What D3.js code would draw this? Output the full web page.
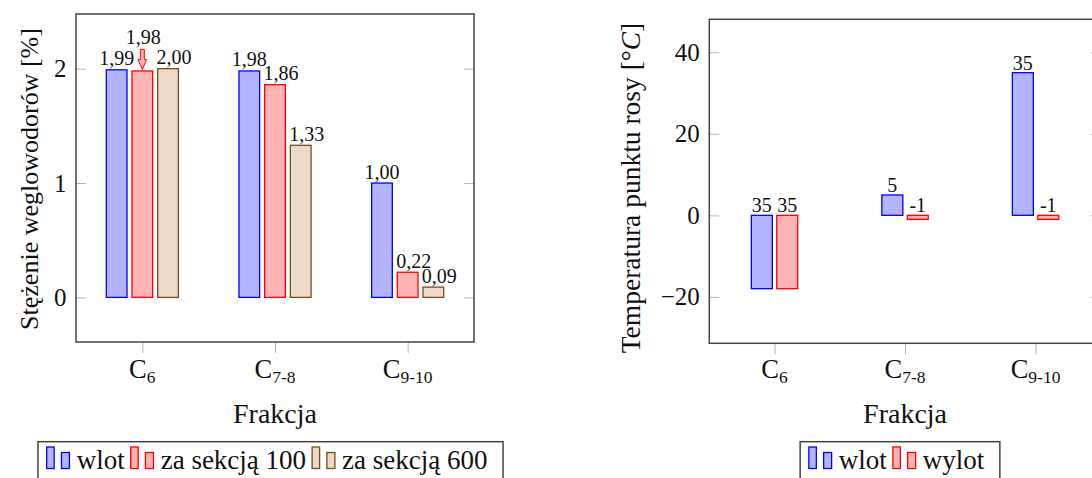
<!DOCTYPE html>
<html>
<head>
<meta charset="utf-8">
<script src="https://cdn.jsdelivr.net/npm/d3@7"></script>
<style>
  body { margin: 0; background: #fff; }
  svg { display: block; }
  svg text { font-family: "Liberation Serif", "DejaVu Serif", serif !important; fill: #111; }
</style>
</head>
<body>
<svg id="chart" width="1092" height="478"></svg>
<script>
// Data
const fractions = ['C6', 'C7-8', 'C9-10']
const fractionSubs = ['6', '7-8', '9-10']

const concSeries = ['wlot', 'za sekcją 100', 'za sekcją 600']
const concInlet = [1.99, 1.98, 1.00]
const concAfter100 = [1.98, 1.86, 0.22]
const concAfter600 = [2.00, 1.33, 0.09]
const concTicks = [0, 1, 2]

const dewSeries = ['wlot', 'wylot']
const dewInlet = [-18, 5, 35]
const dewOutlet = [-18, -1, -1]
const dewInletLabels = ['35', '5', '35']
const dewOutletLabels = ['35', '-1', '-1']
const dewTicks = [-20, 0, 20, 40]

// pgfplots bar cycle: blue, red, brown!60!black
const STYLES = [
  { fill: '#b3b3ff', stroke: '#0000ff' },
  { fill: '#ffb3b3', stroke: '#ff0000' },
  { fill: '#ecd9c6', stroke: '#734d26' },
]

const FONT = '"Liberation Serif", "DejaVu Serif", serif'
const svg = d3.select('#chart').attr('font-family', FONT)
const comma = v => d3.format('.2f')(v).replace('.', ',')
const minus = v => String(v).replace('-', '\u2212')

function drawPanel(p) {
  const g = svg.append('g')

  const x = d3.scalePoint().domain(fractions).range([p.left, p.right]).padding(0.5)
  const y = d3.scaleLinear().domain(p.yDomain).range([p.bottom, p.top])
  const n = p.series.length
  const gap = 1 - p.barWidth / p.step
  const inner = d3.scaleBand()
    .domain(d3.range(n))
    .range([-n * p.step / 2, n * p.step / 2])
    .paddingInner(gap)
    .paddingOuter(gap / 2)
  const bw = inner.bandwidth()

  // y ticks, inside on both sides
  const yLeft = g.append('g')
    .attr('transform', `translate(${p.left},0)`)
    .call(d3.axisLeft(y).tickValues(p.ticks).tickSizeInner(-10).tickSizeOuter(0).tickPadding(9.5).tickFormat(minus))
  const yRight = g.append('g')
    .attr('transform', `translate(${p.right},0)`)
    .call(d3.axisRight(y).tickValues(p.ticks).tickSizeInner(-10).tickSizeOuter(0).tickFormat(''))
  ;[yLeft, yRight].forEach(a => {
    a.attr('font-family', FONT).attr('font-size', 25)
    a.select('.domain').remove()
    a.selectAll('line').attr('stroke', '#b5b5b5')
    a.selectAll('text').attr('fill', '#111')
  })

  // x ticks, outside below
  const xAxis = g.append('g')
    .attr('transform', `translate(0,${p.bottom})`)
    .call(d3.axisBottom(x).tickSizeInner(11).tickSizeOuter(0).tickFormat(''))
  xAxis.select('.domain').remove()
  xAxis.selectAll('line').attr('stroke', '#b5b5b5')

  fractions.forEach((f, j) => {
    const t = g.append('text')
      .attr('x', x(f))
      .attr('y', 377.5)
      .attr('text-anchor', 'middle')
      .attr('font-size', 26.5)
    t.append('tspan').text('C')
    t.append('tspan').attr('font-size', 17.5).attr('dy', 5.5).text(fractionSubs[j])
  })

  // bars
  p.values.forEach((vals, i) => {
    g.selectAll(null)
      .data(vals)
      .join('rect')
      .attr('x', (v, j) => x(fractions[j]) + inner(i))
      .attr('y', v => y(Math.max(v, 0)))
      .attr('width', bw)
      .attr('height', v => Math.abs(y(v) - y(0)))
      .attr('fill', STYLES[i].fill)
      .attr('stroke', STYLES[i].stroke)
      .attr('stroke-width', 1.3)
  })

  // value labels
  p.labels.forEach((labs, i) => {
    labs.forEach((lab, j) => {
      const v = p.values[i][j]
      const cx = x(fractions[j]) + inner(i) + bw / 2
      const top = y(Math.max(v, 0))
      const raised = p.raised && p.raised.series === i && p.raised.cat === fractions[j]
      g.append('text')
        .attr('x', raised ? cx + 1 : cx + p.labelDx(i))
        .attr('y', raised ? top - p.raised.lift : top - p.labelGap)
        .attr('text-anchor', 'middle')
        .attr('font-size', 20)
        .text(lab)
      if (raised) {
        const t = top - 1.5
        const pts = [[-2, -20], [2, -20], [2, -10], [4.3, -10], [0, 0], [-4.3, -10], [-2, -10]]
        g.append('path')
          .attr('d', d3.line()(pts.map(([dx, dy]) => [cx + dx, t + dy])) + 'Z')
          .attr('fill', STYLES[1].fill)
          .attr('stroke', STYLES[1].stroke)
          .attr('stroke-width', 1)
      }
    })
  })

  // frame
  g.append('rect')
    .attr('x', p.left).attr('y', p.top)
    .attr('width', p.right - p.left).attr('height', p.bottom - p.top)
    .attr('fill', 'none').attr('stroke', '#444').attr('stroke-width', 1.5)

  // axis titles
  g.append('text')
    .attr('x', (p.left + p.right) / 2)
    .attr('y', 422.5)
    .attr('text-anchor', 'middle')
    .attr('font-size', 28)
    .text('Frakcja')

  const yt = g.append('text')
    .attr('transform', `translate(${p.yTitleX},${p.yTitleY}) rotate(-90)`)
    .attr('text-anchor', 'middle')
    .attr('font-size', p.yTitleSize)
  p.yTitle.forEach(part => {
    yt.append('tspan').attr('font-style', part.italic ? 'italic' : null).text(part.text)
  })

  // legend
  const lg = g.append('g')
  const box = lg.append('rect')
  let cursor = 8.7
  p.series.forEach((name, i) => {
    lg.append('rect').attr('x', cursor).attr('y', 447).attr('width', 7.5).attr('height', 21.5)
      .attr('fill', STYLES[i].fill).attr('stroke', STYLES[i].stroke).attr('stroke-width', 1.3)
    lg.append('rect').attr('x', cursor + 14.8).attr('y', 452.5).attr('width', 8).attr('height', 16)
      .attr('fill', STYLES[i].fill).attr('stroke', STYLES[i].stroke).attr('stroke-width', 1.3)
    const t = lg.append('text').attr('x', cursor + 30).attr('y', 469).attr('font-size', 27).text(name)
    cursor += 30 + t.node().getComputedTextLength() + 6
  })
  const w = cursor - 6 + 15.5
  box.attr('x', 0).attr('y', 441.7).attr('width', w).attr('height', 42)
    .attr('fill', '#fff').attr('stroke', '#444').attr('stroke-width', 1.5)
  lg.attr('transform', `translate(${p.legendCenter - w / 2},0)`)
}

drawPanel({
  left: 76, right: 474, top: 14, bottom: 342,
  yDomain: [-0.39, 2.478],
  ticks: concTicks,
  series: concSeries,
  values: [concInlet, concAfter100, concAfter600],
  labels: [concInlet.map(comma), concAfter100.map(comma), concAfter600.map(comma)],
  step: 25.7, barWidth: 20.7,
  labelDx: i => (i === 0 ? 0 : 6),
  labelGap: 4.5,
  raised: { cat: 'C6', series: 1, lift: 26.5 },
  yTitle: [{ text: 'Stężenie weglowodorów [%]' }],
  yTitleX: 38, yTitleY: 179, yTitleSize: 26,
  legendCenter: 270.5,
})

drawPanel({
  left: 709.3, right: 1100.8, top: 19.3, bottom: 343.3,
  yDomain: [-31.4, 48.1],
  ticks: dewTicks,
  series: dewSeries,
  values: [dewInlet, dewOutlet],
  labels: [dewInletLabels, dewOutletLabels],
  step: 25.4, barWidth: 21,
  labelDx: () => 0,
  labelGap: 3,
  raised: null,
  yTitle: [{ text: 'Temperatura punktu rosy [°' }, { text: 'C', italic: true }, { text: ']' }],
  yTitleX: 640, yTitleY: 188, yTitleSize: 27.5,
  legendCenter: 900,
})
</script>
</body>
</html>
